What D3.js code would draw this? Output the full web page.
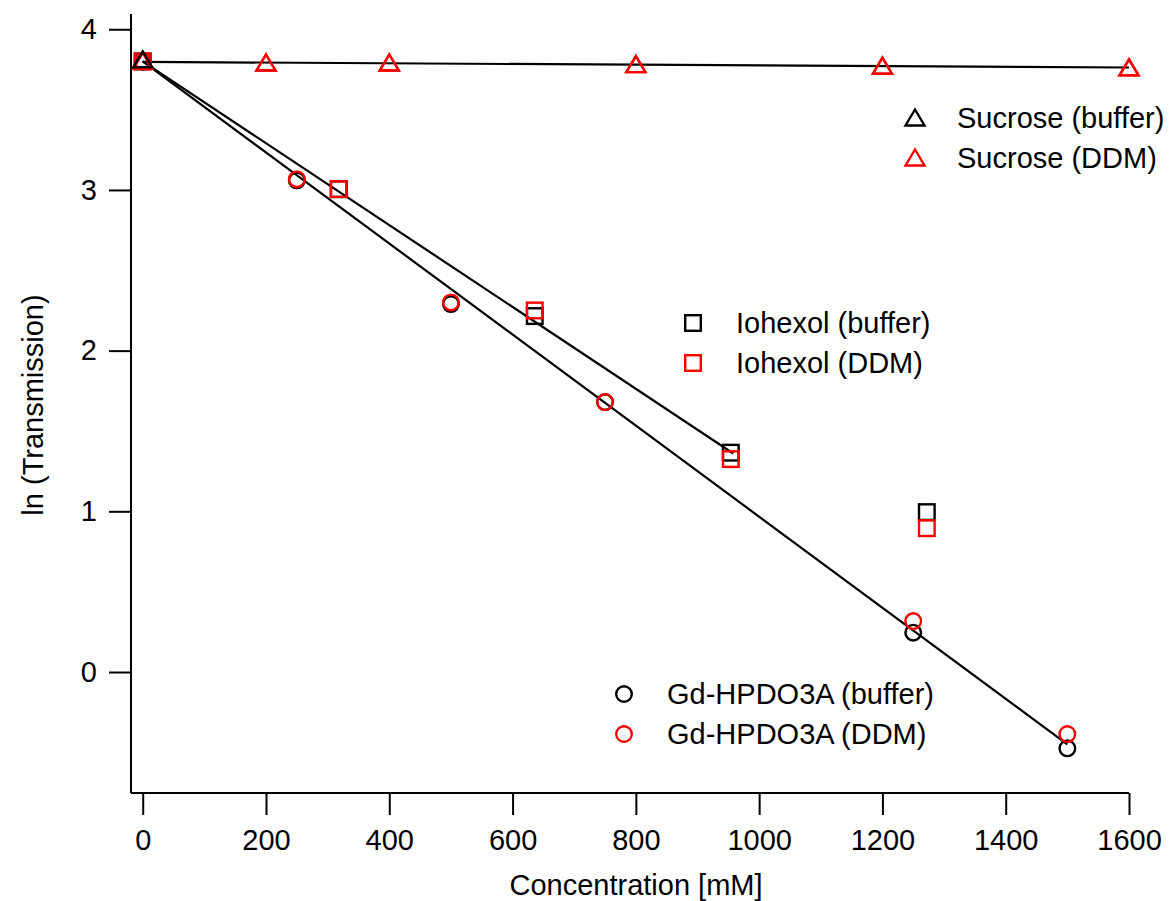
<!DOCTYPE html>
<html>
<head>
<meta charset="utf-8">
<script src="https://cdn.jsdelivr.net/npm/d3@7"></script>
<style>
  body { margin: 0; background: #fff; }
  text { font-family: "Liberation Sans", Arial, sans-serif; fill: #000; }
</style>
</head>
<body>
<div id="chart"></div>
<script>
// Datos
const xTicks = [0, 200, 400, 600, 800, 1000, 1200, 1400, 1600];
const yTicks = [0, 1, 2, 3, 4];

const sucroseX = [0, 200, 400, 800, 1200, 1600];
const sucroseBuffer = [3.81, 3.79, 3.79, 3.78, 3.77, 3.76];
const sucroseDDM = [3.80, 3.79, 3.79, 3.78, 3.77, 3.76];
const sucroseFit = [[0, 3.797], [1600, 3.762]];

const iohexolX = [0, 318, 636, 954, 1272];
const iohexolBuffer = [3.80, 3.005, 2.215, 1.365, 0.995];
const iohexolDDM = [3.80, 3.005, 2.25, 1.325, 0.895];
const iohexolFit = [[0, 3.80], [958, 1.36]];

const gdX = [0, 250, 500, 750, 1250, 1500];
const gdBuffer = [3.80, 3.06, 2.29, 1.68, 0.245, -0.475];
const gdDDM = [3.80, 3.067, 2.30, 1.68, 0.317, -0.386];
const gdFit = [[0, 3.80], [1500, -0.45]];

const legendSucrose = ['Sucrose (buffer)', 'Sucrose (DDM)'];
const legendIohexol = ['Iohexol (buffer)', 'Iohexol (DDM)'];
const legendGd = ['Gd-HPDO3A (buffer)', 'Gd-HPDO3A (DDM)'];

const width = 1176, height = 901;
const svg = d3.select('#chart').append('svg')
  .attr('width', width).attr('height', height);

const x = d3.scaleLinear().domain([-19, 1600]).range([131, 1129]);
const y = d3.scaleLinear().domain([-0.753, 4.095]).range([793, 14]);

// Ejes
const xAxis = g => {
  g.call(d3.axisBottom(x).tickValues(xTicks).tickSize(22).tickPadding(14).tickFormat(d3.format('d')));
  g.select('.domain').attr('d', `M${x.range()[0]},0H${x.range()[1]}`);
  g.selectAll('line, path').attr('stroke', '#000').attr('stroke-width', 2);
  g.selectAll('text').attr('font-size', 29).attr('font-family', '"Liberation Sans", Arial, sans-serif');
};
svg.append('g').attr('transform', `translate(0,${y.range()[0]})`).call(xAxis);

const yAxis = g => {
  g.call(d3.axisLeft(y).tickValues(yTicks).tickSize(22).tickPadding(12).tickFormat(d3.format('d')));
  g.select('.domain').attr('d', `M0,${y.range()[0]}V${y.range()[1]}`);
  g.selectAll('line, path').attr('stroke', '#000').attr('stroke-width', 2);
  g.selectAll('text').attr('font-size', 29).attr('font-family', '"Liberation Sans", Arial, sans-serif');
};
svg.append('g').attr('transform', `translate(${x.range()[0]},0)`).call(yAxis);

svg.append('text')
  .attr('x', 636).attr('y', 895)
  .attr('text-anchor', 'middle').attr('font-size', 29)
  .text('Concentration [mM]');

svg.append('text')
  .attr('transform', 'translate(43,405) rotate(-90)')
  .attr('text-anchor', 'middle').attr('font-size', 29)
  .text('ln (Transmission)');

// Rectas de ajuste
const line = d3.line().x(d => x(d[0])).y(d => y(d[1]));
[sucroseFit, iohexolFit, gdFit].forEach(f => {
  svg.append('path').attr('d', line(f))
    .attr('fill', 'none').attr('stroke', '#000').attr('stroke-width', 2.2);
});

// Marcadores
function marker(g, shape, cx, cy, color) {
  if (shape === 'circle') {
    g.append('circle').attr('cx', cx).attr('cy', cy).attr('r', 7.8)
      .attr('fill', 'none').attr('stroke', color).attr('stroke-width', 2.4);
  } else if (shape === 'square') {
    g.append('rect').attr('x', cx - 7.8).attr('y', cy - 7.8).attr('width', 15.6).attr('height', 15.6)
      .attr('fill', 'none').attr('stroke', color).attr('stroke-width', 2.4);
  } else {
    g.append('path')
      .attr('d', `M${cx},${cy - 8.5}L${cx + 9.5},${cy + 7.5}L${cx - 9.5},${cy + 7.5}Z`)
      .attr('fill', 'none').attr('stroke', color).attr('stroke-width', 2.4);
  }
}

// black first, red on top; the black sucrose point at 0 stays visible
const series = [
  { xs: gdX, ys: gdBuffer, shape: 'circle', color: '#000' },
  { xs: gdX, ys: gdDDM, shape: 'circle', color: '#ff0000' },
  { xs: iohexolX, ys: iohexolBuffer, shape: 'square', color: '#000' },
  { xs: iohexolX, ys: iohexolDDM, shape: 'square', color: '#ff0000' },
  { xs: sucroseX, ys: sucroseDDM, shape: 'triangle', color: '#ff0000' }
];

const marks = svg.append('g');
series.forEach(s => {
  s.xs.forEach((v, i) => marker(marks, s.shape, x(v), y(s.ys[i]), s.color));
});
// buffer de sacarosa: casi siempre tapado por el DDM salvo en 0
sucroseX.forEach((v, i) => {
  if (v === 0) marker(marks, 'triangle', x(v), y(sucroseBuffer[i]), '#000');
});
sucroseX.forEach((v, i) => {
  if (v !== 0) marker(marks, 'triangle', x(v), y(sucroseDDM[i]), '#ff0000');
});

// Leyendas
function legend(labels, shape, sx, tx, y0) {
  const g = svg.append('g');
  labels.forEach((lab, i) => {
    const yy = y0 + i * 40;
    marker(g, shape, sx, yy, i === 0 ? '#000' : '#ff0000');
    g.append('text').attr('x', tx).attr('y', yy + 10).attr('font-size', 29).text(lab);
  });
}
legend(legendSucrose, 'triangle', 915, 957, 118);
legend(legendIohexol, 'square', 693, 736, 323);
legend(legendGd, 'circle', 624, 667, 694);
</script>
</body>
</html>
